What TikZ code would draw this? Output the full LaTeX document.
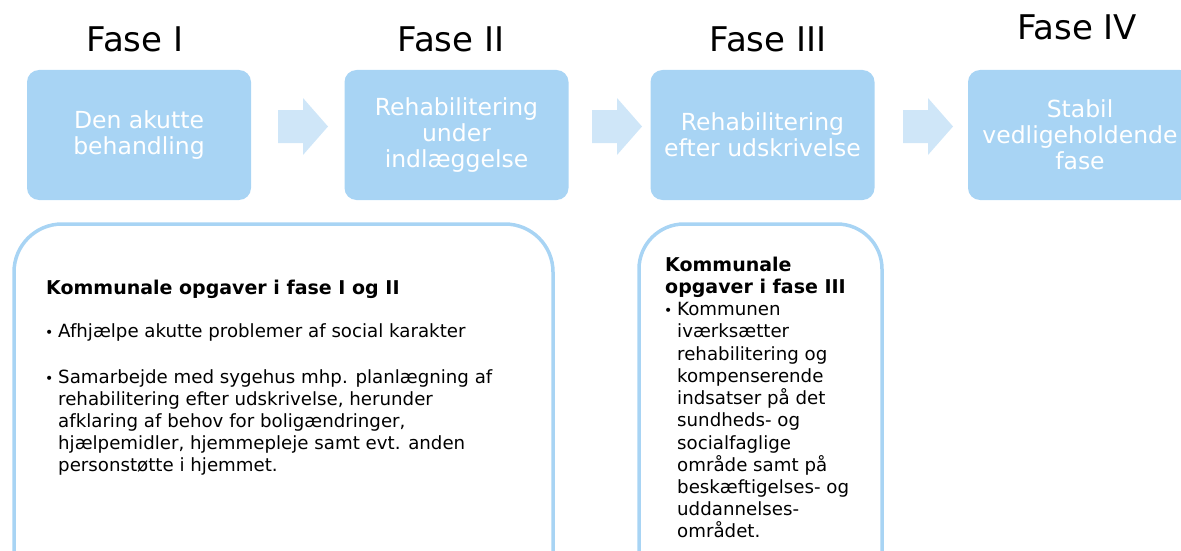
\documentclass[tikz,border=0pt]{standalone}
\usepackage{fontspec}
\setmainfont{DejaVu Sans}
\definecolor{boxblue}{HTML}{A8D4F4}
\definecolor{arrowblue}{HTML}{CFE6F8}
\begin{document}
\begin{tikzpicture}[x=1pt,y=-1pt,
  phase/.style={fill=boxblue,rounded corners=12pt,minimum width=224pt,minimum height=130pt,inner sep=0pt,text=white,align=center,font=\fontsize{23.5}{26}\selectfont},
  fase/.style={font=\fontsize{34}{38}\selectfont,text=black,inner sep=0pt,anchor=base},
  frame/.style={draw=boxblue,line width=3.5pt,fill=white,rounded corners=48pt},
  ln/.style={anchor=base west,inner sep=0pt,font=\fontsize{18.2}{22}\selectfont},
  hd/.style={anchor=base west,inner sep=0pt,font=\fontsize{19}{22}\selectfont\bfseries},
  bul/.style={anchor=base west,inner sep=0pt,font=\fontsize{14}{22}\selectfont},
  arr/.style={fill=arrowblue}]
\useasboundingbox (0,0) rectangle (1181,551);
\clip (0,0) rectangle (1181,551);
% phase titles
\node[fase] (f1) at (135,52) {Fase I};
\node[fase] (f2) at (451,52) {Fase II};
\node[fase] (f3) at (768,52) {Fase III};
\node[fase] (f4) at (1077,40) {Fase IV};
% phase boxes
\node[phase] (p1) at (139,135) {Den akutte\\behandling};
\node[phase] (p2) at (456.5,135) {Rehabilitering\\under\\indlæggelse};
\node[phase] (p3) at (762.5,135) {Rehabilitering\\efter udskrivelse};
\node[phase] (p4) at (1080,135) {Stabil\\vedligeholdende\\fase};
% block arrows
\foreach \ax/\nm in {278/a1,592/a2,903/a3}{
  \coordinate (\nm) at (\ax,126.5);
  \fill[arr] (\nm) ++(0,-16.5) -- ++(25,0) -- ++(0,-12) -- ++(25,28.5) -- ++(-25,28.5) -- ++(0,-12) -- ++(-25,0) -- cycle;
}
% lower frames
\draw[frame] (14,224) rectangle (553,640);
\draw[frame,rounded corners=45pt] (639,224) rectangle (882,640);
% left frame text
\node[hd] (h1) at (46,294) {Kommunale opgaver i fase I og II};
\node[bul] (b1) at (45,337) {•};
\node[ln] (l1) at (58,337) {Afhjælpe akutte problemer af social karakter};
\node[bul] (b2) at (45,383) {•};
\node[ln] (l2a) at (58,383) {Samarbejde med sygehus mhp. planlægning af};
\node[ln] (l2b) at (58,405) {rehabilitering efter udskrivelse, herunder};
\node[ln] (l2c) at (58,427) {afklaring af behov for boligændringer,};
\node[ln] (l2d) at (58,449) {hjælpemidler, hjemmepleje samt evt. anden};
\node[ln] (l2e) at (58,471) {personstøtte i hjemmet.};
% right frame text
\node[hd] (h2a) at (665,271) {Kommunale};
\node[hd] (h2b) at (665,293) {opgaver i fase III};
\node[bul] (b3) at (664,315) {•};
\node[ln] (r1) at (677,315) {Kommunen};
\node[ln] (r2) at (677,337) {iværksætter};
\node[ln] (r3) at (677,360) {rehabilitering og};
\node[ln] (r4) at (677,382) {kompenserende};
\node[ln] (r5) at (677,404) {indsatser på det};
\node[ln] (r6) at (677,426) {sundheds- og};
\node[ln] (r7) at (677,449) {socialfaglige};
\node[ln] (r8) at (677,471) {område samt på};
\node[ln] (r9) at (677,493) {beskæftigelses- og};
\node[ln] (r10) at (677,515) {uddannelses-};
\node[ln] (r11) at (677,537) {området.};
\end{tikzpicture}
\end{document}
